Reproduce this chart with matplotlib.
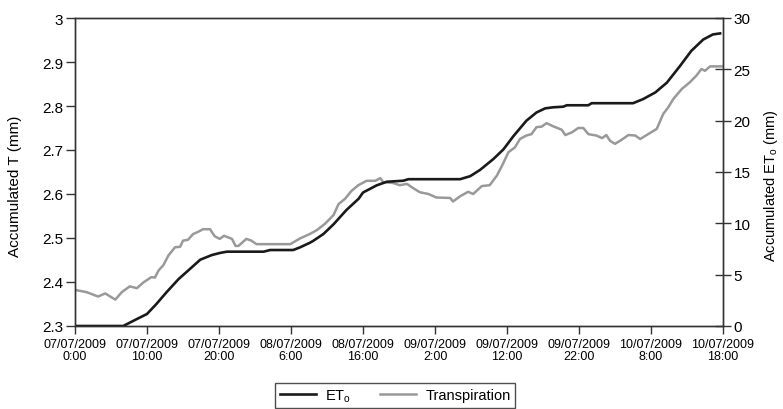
import numpy as np
import matplotlib
matplotlib.use("Agg")
import matplotlib.pyplot as plt

plt.rcParams['font.family'] = ['Liberation Sans', 'DejaVu Sans']
plt.rcParams['mathtext.fontset'] = 'custom'
plt.rcParams['mathtext.rm'] = 'Liberation Sans'

# hours since 07/07/2009 0:00
et_hours = [0, 6.7, 8.6, 10, 11.3, 12.7, 14.4, 15.7, 17.4, 19, 20.1, 21.1, 26.2, 27.1, 30.3,
            31.25, 32.6, 33.1, 34.5, 35.9, 37.7, 39.4, 40, 41.9, 43.3, 45.6, 46.3, 53.5, 54.9,
            56.25, 58.1, 59.5, 60.9, 62.7, 64.1, 65.3, 66.4, 67.8, 68.3, 71.3, 71.75, 77.5,
            78.9, 80.6, 82.2, 84, 85.6, 87.25, 88.6, 89.6]
et_vals = [0, 0, 0.68, 1.17, 2.14, 3.28, 4.58, 5.39, 6.46, 6.91, 7.11, 7.24, 7.24, 7.4, 7.4,
           7.66, 8.1, 8.3, 8.96, 9.9, 11.3, 12.4, 13.0, 13.7, 14.05, 14.15, 14.3, 14.3, 14.6,
           15.2, 16.26, 17.2, 18.5, 20.0, 20.8, 21.2, 21.3, 21.36, 21.5, 21.5, 21.7, 21.7,
           22.1, 22.75, 23.7, 25.3, 26.8, 27.9, 28.4, 28.5]

tr_hours = [0, 1.6, 3.2, 4.2, 4.9, 5.6, 6.5, 7.6, 8.6, 9.5, 10.6, 11.1, 11.6, 12.3, 13.0, 13.9,
            14.6, 15.0, 15.7, 16.4, 17.1, 17.8, 18.75, 19.4, 20.1, 20.7, 21.8, 22.3, 22.7, 23.8,
            24.5, 25.2, 29.9, 31.25, 32.6, 33.6, 34.7, 35.9, 36.6, 37.5, 38.4, 39.35, 40.5,
            41.7, 42.4, 42.8, 44.2, 45.1, 46.1, 47, 47.9, 49.1, 50.2, 52.1, 52.5, 53.5, 54.6,
            55.3, 56.5, 57.6, 58.6, 59.3, 60.2, 61.1, 61.8, 62.7, 63.4, 64.1, 64.8, 65.5, 66.4,
            67.6, 68.1, 69, 69.9, 70.6, 71.3, 72.4, 73.2, 73.8, 74.3, 75, 75.9, 76.85, 77.8,
            78.5, 79.6, 80.8, 81.7, 82.4, 83.1, 84.3, 85.4, 86.3, 87, 87.5, 88.2, 89.8]
tr_vals = [2.382, 2.377, 2.367, 2.374, 2.367, 2.36, 2.377, 2.39, 2.386, 2.399, 2.411, 2.41,
           2.426, 2.439, 2.461, 2.479, 2.48, 2.494, 2.496, 2.509, 2.514, 2.52, 2.52, 2.504,
           2.498, 2.505, 2.498, 2.482, 2.482, 2.498, 2.494, 2.486, 2.486, 2.499, 2.509, 2.518,
           2.532, 2.552, 2.577, 2.589, 2.607, 2.62, 2.63, 2.63, 2.636, 2.627, 2.625, 2.62,
           2.623, 2.613, 2.604, 2.6, 2.592, 2.591, 2.583, 2.595, 2.605, 2.6, 2.618, 2.62, 2.642,
           2.664, 2.695, 2.706, 2.725, 2.733, 2.736, 2.752, 2.753, 2.761, 2.754, 2.746, 2.734,
           2.74, 2.75, 2.75, 2.736, 2.733, 2.727, 2.734, 2.721, 2.714, 2.723, 2.734, 2.733,
           2.725, 2.736, 2.748, 2.782, 2.797, 2.816, 2.839, 2.854, 2.869, 2.884, 2.88, 2.89, 2.89]

tick_hours = [0, 10, 20, 30, 40, 50, 60, 70, 80, 90]
tick_labels = ["07/07/2009\n0:00", "07/07/2009\n10:00", "07/07/2009\n20:00",
               "08/07/2009\n6:00", "08/07/2009\n16:00", "09/07/2009\n2:00",
               "09/07/2009\n12:00", "09/07/2009\n22:00", "10/07/2009\n8:00",
               "10/07/2009\n18:00"]

fig = plt.figure(figsize=(7.83, 4.10), dpi=100)
ax = fig.add_axes([75/783, 1-327/410, (723-75)/783, (327-19)/410])
ax2 = ax.twinx()

l2, = ax.plot(tr_hours, tr_vals, color="#999999", lw=1.8)
l1, = ax2.plot(et_hours, et_vals, color="#1a1a1a", lw=1.9)

ax.set_xlim(0, 90)
ax.set_ylim(2.3, 3.0)
ax.set_yticks([2.3, 2.4, 2.5, 2.6, 2.7, 2.8, 2.9, 3.0])
ax.set_yticklabels(["2.3", "2.4", "2.5", "2.6", "2.7", "2.8", "2.9", "3"])
ax2.set_ylim(0, 30)
ax2.set_yticks([0, 5, 10, 15, 20, 25, 30])
ax.set_xticks(tick_hours)
ax.set_xticklabels(tick_labels, fontsize=9, linespacing=1.0)

for a in (ax, ax2):
    for s in a.spines.values():
        s.set_color("#333333")
        s.set_linewidth(1.0)
ax.tick_params(axis='y', direction='out', length=6.5, width=1, color="#333333", labelsize=11, pad=2)
ax.tick_params(axis='x', direction='out', length=6, width=1, color="#333333", pad=3)
ax2.tick_params(axis='y', direction='inout', length=11, width=1, color="#333333", labelsize=11, pad=2)

ax.set_ylabel("Accumulated T (mm)", fontsize=11)
ax.yaxis.set_label_coords(-0.082, 0.458)
ax2.set_ylabel("Accumulated ET$_\\mathrm{o}$ (mm)", fontsize=10.5)
ax2.yaxis.set_label_coords(1.06, 0.458)

leg = fig.legend([l1, l2], ["ET$_\\mathrm{o}$", "Transpiration"], loc='upper center',
                 bbox_to_anchor=(395/783, 1-384/410), ncol=2, frameon=True, fancybox=False,
                 fontsize=10.5, handlelength=2.5, handletextpad=0.6, columnspacing=2.0,
                 borderpad=0.3, borderaxespad=0)
leg.get_frame().set_edgecolor("#222222")
leg.get_frame().set_linewidth(1.0)

fig.savefig("out.png", dpi=100)
